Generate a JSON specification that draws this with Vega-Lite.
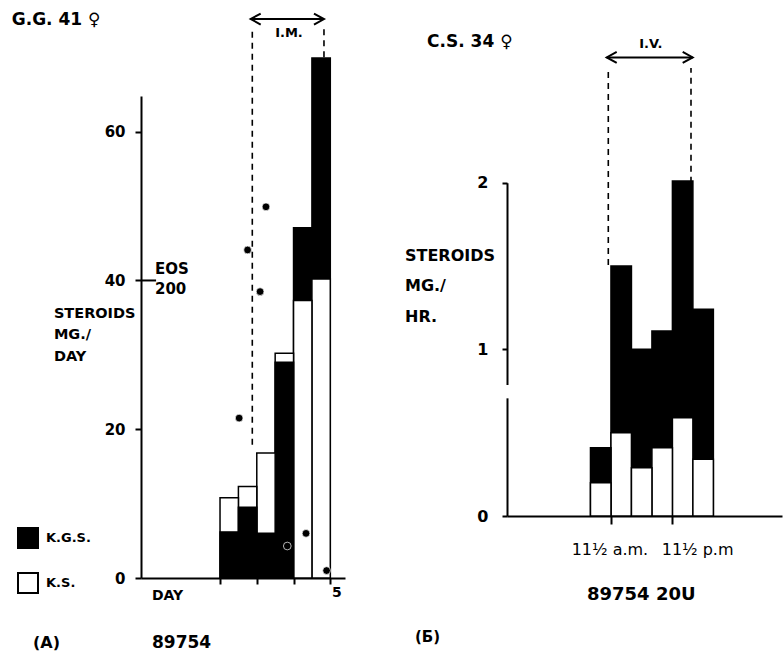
{
  "$schema": "https://vega.github.io/schema/vega-lite/v6.json",
  "width": 784,
  "height": 652,
  "autosize": {"type": "none"},
  "padding": 0,
  "background": "white",
  "config": {
    "view": {"stroke": null},
    "font": "DejaVu Sans",
    "text": {"font": "DejaVu Sans", "fontWeight": "bold", "color": "black"},
    "axis": {"labelFont": "DejaVu Sans", "labelFontWeight": "bold", "labelColor": "black", "domainColor": "black", "tickColor": "black", "domainWidth": 2, "tickWidth": 2, "grid": false, "labelOverlap": false, "labelFlush": false, "labelBound": false}
  },
  "datasets": {
    "one": [{"k": 1}],
    "barsA": [
      {"start": 2.0, "end": 2.5, "series": "K.S.", "mg": 10.8},
      {"start": 2.0, "end": 2.5, "series": "K.G.S.", "mg": 6.2},
      {"start": 2.5, "end": 3.0, "series": "K.S.", "mg": 12.3},
      {"start": 2.5, "end": 3.0, "series": "K.G.S.", "mg": 9.5},
      {"start": 3.0, "end": 3.5, "series": "K.S.", "mg": 16.8},
      {"start": 3.0, "end": 3.5, "series": "K.G.S.", "mg": 6.0},
      {"start": 3.5, "end": 4.0, "series": "K.S.", "mg": 30.2},
      {"start": 3.5, "end": 4.0, "series": "K.G.S.", "mg": 29.0},
      {"start": 4.0, "end": 4.5, "series": "K.G.S.", "mg": 47.1},
      {"start": 4.0, "end": 4.5, "series": "K.S.", "mg": 37.3},
      {"start": 4.5, "end": 5.0, "series": "K.G.S.", "mg": 69.9},
      {"start": 4.5, "end": 5.0, "series": "K.S.", "mg": 40.2}
    ],
    "eosA": [
      {"day": 3.25, "mg": 49.9},
      {"day": 2.75, "mg": 44.1},
      {"day": 3.09, "mg": 38.5},
      {"day": 2.52, "mg": 21.5},
      {"day": 4.34, "mg": 6.0},
      {"day": 3.83, "mg": 4.3},
      {"day": 4.9, "mg": 1.0}
    ],
    "imA": [
      {"day": 2.878, "from": 17.9, "to": 73.9},
      {"day": 4.828, "from": 70.0, "to": 73.9}
    ],
    "barsB": [
      {"start": 7.5, "end": 11.5, "series": "K.G.S.", "mg": 0.41},
      {"start": 7.5, "end": 11.5, "series": "K.S.", "mg": 0.2},
      {"start": 11.5, "end": 15.5, "series": "K.G.S.", "mg": 1.5},
      {"start": 11.5, "end": 15.5, "series": "K.S.", "mg": 0.5},
      {"start": 15.5, "end": 19.5, "series": "K.G.S.", "mg": 1.0},
      {"start": 15.5, "end": 19.5, "series": "K.S.", "mg": 0.29},
      {"start": 19.5, "end": 23.5, "series": "K.G.S.", "mg": 1.11},
      {"start": 19.5, "end": 23.5, "series": "K.S.", "mg": 0.41},
      {"start": 23.5, "end": 27.5, "series": "K.G.S.", "mg": 2.01},
      {"start": 23.5, "end": 27.5, "series": "K.S.", "mg": 0.59},
      {"start": 27.5, "end": 31.5, "series": "K.G.S.", "mg": 1.24},
      {"start": 27.5, "end": 31.5, "series": "K.S.", "mg": 0.34}
    ],
    "ivB": [
      {"hour": 10.98, "from": 1.506, "to": 2.688},
      {"hour": 27.13, "from": 2.0, "to": 2.688}
    ]
  },
  "layer": [
    {
      "layer": [
        {
          "data": {"name": "barsA"},
          "mark": {"type": "bar", "stroke": "black", "strokeWidth": 1.5},
          "encoding": {
            "x": {"field": "start", "type": "quantitative", "title": null, "scale": {"domain": [-0.15, 5.4], "range": [141, 345], "nice": false, "zero": false},
              "axis": {"orient": "bottom", "offset": -74, "values": [2, 3, 4, 5], "labelExpr": "datum.value == 5 ? '5' : ''", "tickSize": 6, "labelFontSize": 14, "labelPadding": 1, "labelOffset": 6, "title": null}},
            "x2": {"field": "end"},
            "y": {"field": "mg", "type": "quantitative", "title": null, "stack": null, "scale": {"domain": [0, 64.8], "range": [578, 96], "nice": false},
              "axis": {"orient": "left", "offset": -141, "values": [0, 20, 40, 60], "format": "d", "tickCount": 20, "tickSize": 6, "labelPadding": 10, "labelFontSize": 15, "title": null}},
            "y2": {"datum": 0},
            "fill": {"field": "series", "type": "nominal", "scale": {"domain": ["K.G.S.", "K.S."], "range": ["black", "white"]},
              "legend": {"orient": "none", "legendX": 17, "legendY": 527, "title": null, "symbolType": "square", "symbolSize": 400, "symbolStrokeColor": "black", "symbolStrokeWidth": 2, "labelFont": "DejaVu Sans", "labelFontWeight": "bold", "labelFontSize": 13, "labelColor": "black", "labelOffset": 7, "rowPadding": 17, "padding": 0}},
            "order": {"field": "mg", "sort": "descending"}
          }
        },
        {
          "data": {"name": "eosA"},
          "mark": {"type": "point", "filled": true, "fill": "black", "stroke": "white", "strokeWidth": 0.7, "size": 60, "opacity": 1},
          "encoding": {
            "x": {"field": "day", "type": "quantitative", "title": null},
            "y": {"field": "mg", "type": "quantitative", "title": null}
          }
        },
        {
          "data": {"name": "imA"},
          "mark": {"type": "rule", "strokeDash": [6, 5], "strokeWidth": 1.6, "color": "black"},
          "encoding": {
            "x": {"field": "day", "type": "quantitative", "title": null},
            "y": {"field": "from", "type": "quantitative", "title": null},
            "y2": {"field": "to"}
          }
        },
        {
          "data": {"name": "one"},
          "mark": {"type": "rule", "strokeWidth": 2, "color": "black"},
          "encoding": {"x": {"datum": 2.834}, "x2": {"datum": 4.828}, "y": {"datum": 75.15}}
        },
        {
          "data": {"name": "one"},
          "mark": {"type": "point", "shape": "M1,-0.55L0,0L1,0.55", "filled": false, "stroke": "black", "strokeWidth": 2, "size": 400, "opacity": 1},
          "encoding": {"x": {"datum": 2.834}, "y": {"datum": 75.15}}
        },
        {
          "data": {"name": "one"},
          "mark": {"type": "point", "shape": "M-1,-0.55L0,0L-1,0.55", "filled": false, "stroke": "black", "strokeWidth": 2, "size": 400, "opacity": 1},
          "encoding": {"x": {"datum": 4.828}, "y": {"datum": 75.15}}
        },
        {
          "data": {"name": "one"},
          "mark": {"type": "rule", "strokeWidth": 2, "color": "black"},
          "encoding": {"x": {"datum": -0.15}, "x2": {"datum": 0.26}, "y": {"datum": 40}}
        },
        {
          "data": {"name": "one"},
          "mark": {"type": "text", "align": "left", "baseline": "middle", "fontSize": 17},
          "encoding": {"x": {"datum": -3.667}, "y": {"datum": 75.0}, "text": {"value": "G.G. 41 ♀"}}
        },
        {
          "data": {"name": "one"},
          "mark": {"type": "text", "align": "center", "baseline": "middle", "fontSize": 13},
          "encoding": {"x": {"datum": 3.876}, "y": {"datum": 73.27}, "text": {"value": "I.M."}}
        },
        {
          "data": {"name": "one"},
          "mark": {"type": "text", "align": "left", "baseline": "top", "fontSize": 15, "lineHeight": 20},
          "encoding": {"x": {"datum": 0.23}, "y": {"datum": 42.5}, "text": {"value": ["EOS", "200"]}}
        },
        {
          "data": {"name": "one"},
          "mark": {"type": "text", "align": "left", "baseline": "top", "fontSize": 14.5, "lineHeight": 21.5},
          "encoding": {"x": {"datum": -2.52}, "y": {"datum": 36.5}, "text": {"value": ["STEROIDS", "MG./", "DAY"]}}
        },
        {
          "data": {"name": "one"},
          "mark": {"type": "text", "align": "left", "baseline": "middle", "fontSize": 14},
          "encoding": {"x": {"datum": 0.149}, "y": {"datum": -2.42}, "text": {"value": "DAY"}}
        },
        {
          "data": {"name": "one"},
          "mark": {"type": "text", "align": "left", "baseline": "middle", "fontSize": 16},
          "encoding": {"x": {"datum": -3.088}, "y": {"datum": -8.74}, "text": {"value": "(A)"}}
        },
        {
          "data": {"name": "one"},
          "mark": {"type": "text", "align": "left", "baseline": "middle", "fontSize": 17},
          "encoding": {"x": {"datum": 0.149}, "y": {"datum": -8.74}, "text": {"value": "89754"}}
        }
      ]
    },
    {
      "layer": [
        {
          "data": {"name": "barsB"},
          "mark": {"type": "bar", "stroke": "black", "strokeWidth": 1.5},
          "encoding": {
            "x": {"field": "start", "type": "quantitative", "title": null, "scale": {"domain": [-8.8, 44.9], "range": [507, 782], "nice": false, "zero": false},
              "axis": {"orient": "bottom", "offset": -136, "values": [11.5, 23.5], "labels": false, "tickSize": 8, "title": null}},
            "x2": {"field": "end"},
            "y": {"field": "mg", "type": "quantitative", "title": null, "stack": null, "scale": {"domain": [0, 2], "range": [516, 182.7], "nice": false},
              "axis": {"orient": "left", "offset": -507, "values": [0, 1, 2], "labelExpr": "datum.value == 0 ? '0' : datum.value == 1 ? '1' : '2'", "tickCount": 20, "tickSize": 5, "labelPadding": 14, "labelFontSize": 16, "title": null}},
            "y2": {"datum": 0},
            "fill": {"field": "series", "type": "nominal", "scale": {"domain": ["K.G.S.", "K.S."], "range": ["black", "white"]}, "legend": null},
            "order": {"field": "mg", "sort": "descending"}
          }
        },
        {
          "data": {"name": "ivB"},
          "mark": {"type": "rule", "strokeDash": [6, 5], "strokeWidth": 1.6, "color": "black"},
          "encoding": {
            "x": {"field": "hour", "type": "quantitative", "title": null},
            "y": {"field": "from", "type": "quantitative", "title": null},
            "y2": {"field": "to"}
          }
        },
        {
          "data": {"name": "one"},
          "mark": {"type": "rule", "strokeWidth": 5, "color": "white"},
          "encoding": {"x": {"datum": -8.8}, "y": {"datum": 0.706}, "y2": {"datum": 0.786}}
        },
        {
          "data": {"name": "one"},
          "mark": {"type": "rule", "strokeWidth": 2, "color": "black"},
          "encoding": {"x": {"datum": 10.67}, "x2": {"datum": 27.46}, "y": {"datum": 2.752}}
        },
        {
          "data": {"name": "one"},
          "mark": {"type": "point", "shape": "M1,-0.55L0,0L1,0.55", "filled": false, "stroke": "black", "strokeWidth": 2, "size": 400, "opacity": 1},
          "encoding": {"x": {"datum": 10.67}, "y": {"datum": 2.752}}
        },
        {
          "data": {"name": "one"},
          "mark": {"type": "point", "shape": "M-1,-0.55L0,0L-1,0.55", "filled": false, "stroke": "black", "strokeWidth": 2, "size": 400, "opacity": 1},
          "encoding": {"x": {"datum": 27.46}, "y": {"datum": 2.752}}
        },
        {
          "data": {"name": "one"},
          "mark": {"type": "text", "align": "left", "baseline": "middle", "fontSize": 17},
          "encoding": {"x": {"datum": -24.42}, "y": {"datum": 2.844}, "text": {"value": "C.S. 34 ♀"}}
        },
        {
          "data": {"name": "one"},
          "mark": {"type": "text", "align": "center", "baseline": "middle", "fontSize": 13},
          "encoding": {"x": {"datum": 19.28}, "y": {"datum": 2.83}, "text": {"value": "I.V."}}
        },
        {
          "data": {"name": "one"},
          "mark": {"type": "text", "align": "left", "baseline": "top", "fontSize": 16, "lineHeight": 30.5},
          "encoding": {"x": {"datum": -28.72}, "y": {"datum": 1.61}, "text": {"value": ["STEROIDS", "MG./", "HR."]}}
        },
        {
          "data": {"name": "one"},
          "mark": {"type": "text", "align": "left", "baseline": "middle", "fontSize": 16, "fontWeight": "normal"},
          "encoding": {"x": {"datum": 3.83}, "y": {"datum": -0.204}, "text": {"value": "11½ a.m."}}
        },
        {
          "data": {"name": "one"},
          "mark": {"type": "text", "align": "left", "baseline": "middle", "fontSize": 16, "fontWeight": "normal"},
          "encoding": {"x": {"datum": 21.41}, "y": {"datum": -0.204}, "text": {"value": "11½ p.m"}}
        },
        {
          "data": {"name": "one"},
          "mark": {"type": "text", "align": "left", "baseline": "middle", "fontSize": 18},
          "encoding": {"x": {"datum": 6.82}, "y": {"datum": -0.474}, "text": {"value": "89754  20U"}}
        },
        {
          "data": {"name": "one"},
          "mark": {"type": "text", "align": "left", "baseline": "middle", "fontSize": 15},
          "encoding": {"x": {"datum": -26.77}, "y": {"datum": -0.726}, "text": {"value": "(Б)"}}
        }
      ]
    }
  ],
  "resolve": {
    "scale": {"x": "independent", "y": "independent", "fill": "independent"},
    "axis": {"x": "independent", "y": "independent"},
    "legend": {"fill": "independent"}
  }
}
